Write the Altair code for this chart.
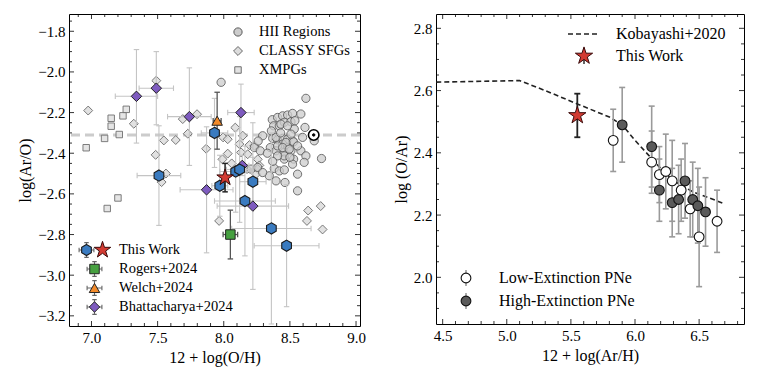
import altair as alt
import pandas as pd

FONT = "Liberation Serif"

# ---------------- Left panel data ----------------
HII_X = [8.367, 8.407, 8.445, 8.483, 8.52, 8.583, 8.377, 8.42, 8.458, 8.508, 8.533, 8.614,
         8.294, 8.37, 8.407, 8.445, 8.483, 8.52, 8.596, 8.445, 8.483, 8.528, 8.231, 8.276,
         8.352, 8.395, 8.458, 8.508, 8.583, 8.621, 8.458, 8.528, 8.608, 8.739, 8.206, 8.256,
         8.382, 8.42, 8.458, 8.344, 8.558, 8.395, 8.463, 8.558, 8.684, 7.98, 8.621,
         8.432, 8.482, 8.538, 8.394, 8.508, 8.47, 8.407, 8.445, 8.495, 8.558, 8.457, 8.407,
         8.52, 8.294, 8.36, 8.43, 8.33, 8.26, 8.37, 8.50]
HII_Y = [-2.235, -2.224, -2.216, -2.212, -2.204, -2.207, -2.265, -2.265, -2.248, -2.245, -2.281, -2.273,
         -2.314, -2.327, -2.334, -2.327, -2.331, -2.339, -2.322, -2.355, -2.372, -2.344, -2.372, -2.388,
         -2.372, -2.388, -2.396, -2.388, -2.388, -2.413, -2.429, -2.429, -2.445, -2.426, -2.478, -2.470,
         -2.475, -2.487, -2.482, -2.511, -2.503, -2.536, -2.544, -2.585, -2.339, -2.051, -2.130,
         -2.257, -2.265, -2.240, -2.322, -2.306, -2.347, -2.364, -2.372, -2.38, -2.364, -2.413, -2.413,
         -2.454, -2.495, -2.29, -2.30, -2.40, -2.34, -2.44, -2.42]

CLASSY_X = [6.975, 7.32, 7.49, 7.485, 7.547, 7.637, 7.53, 7.563, 7.69, 7.798, 7.728, 7.867, 7.965,
            8.087, 7.995, 8.03, 8.144, 8.118, 8.194, 8.232, 8.131, 8.181, 8.03, 8.257, 8.269, 8.256,
            8.176, 8.244, 7.99, 8.06, 8.638, 8.733, 8.629, 8.747]
CLASSY_Y = [-2.19, -2.255, -2.043, -2.408, -2.337, -2.335, -2.542, -2.50, -2.232, -2.208, -2.304, -2.378, -2.733,
            -2.274, -2.322, -2.331, -2.314, -2.355, -2.36, -2.363, -2.396, -2.405, -2.402, -2.43, -2.46, -2.478,
            -2.478, -2.503, -2.43, -2.45, -2.682, -2.66, -2.733, -2.775]

XMPG_X = [6.96, 7.099, 7.149, 7.149, 7.238, 7.263, 7.21, 7.20, 7.119]
XMPG_Y = [-2.373, -2.327, -2.228, -2.267, -2.216, -2.184, -2.308, -2.62, -2.672]

THIS_X = [7.51, 7.93, 7.97, 8.09, 8.12, 8.22, 8.16, 8.36, 8.475]
THIS_Y = [-2.51, -2.30, -2.56, -2.49, -2.48, -2.54, -2.635, -2.77, -2.855]
THIS_XERR = [0.165, 0.10, 0.06, 0.12, 0.10, 0.10, 0.23, 0.30, 0.245]
THIS_YERR = [0.245, 0.17, 0.15, 0.20, 0.26, 0.12, 0.27, 0.47, 0.30]

STAR_X = [8.01]
STAR_Y = [-2.52]
STAR_XERR = [0.02]
STAR_YERR = [0.07]

BH_X = [7.34, 7.49, 7.74, 8.13, 8.14, 7.87, 8.22]
BH_Y = [-2.12, -2.08, -2.22, -2.20, -2.46, -2.58, -2.66]
BH_XERR = [0.16, 0.13, 0.165, 0.10, 0.05, 0.20, 0.27]
BH_YERR = [0.23, 0.18, 0.24, 0.14, 0.05, 0.31, 0.41]

WELCH_X = [7.95]
WELCH_Y = [-2.24]
WELCH_XERR = [0.03]
WELCH_YERR = [0.14]

ROGERS_X = [8.05]
ROGERS_Y = [-2.80]
ROGERS_XERR = [0.055]
ROGERS_YERR = [0.12]

SUN_X = [8.68]
SUN_Y = [-2.31]

# ---------------- Right panel data ----------------
LOW_X = [5.83, 6.13, 6.19, 6.24, 6.29, 6.36, 6.43, 6.50, 6.64]
LOW_Y = [2.44, 2.37, 2.33, 2.34, 2.31, 2.28, 2.22, 2.13, 2.18]
LOW_ERR = [0.10, 0.10, 0.09, 0.12, 0.13, 0.10, 0.09, 0.16, 0.10]

HIGH_X = [5.90, 6.13, 6.19, 6.29, 6.34, 6.39, 6.45, 6.49, 6.55]
HIGH_Y = [2.49, 2.42, 2.28, 2.24, 2.25, 2.31, 2.25, 2.23, 2.21]
HIGH_ERR = [0.12, 0.13, 0.10, 0.11, 0.11, 0.12, 0.12, 0.12, 0.11]

RSTAR_X = [5.55]
RSTAR_Y = [2.52]
RSTAR_ERR = [0.07]

KOB_X = [4.45, 5.1, 5.3, 5.55, 5.8, 5.9, 6.0, 6.1, 6.2, 6.3, 6.45, 6.7]
KOB_Y = [2.627, 2.632, 2.60, 2.557, 2.515, 2.49, 2.44, 2.395, 2.35, 2.31, 2.275, 2.236]

# ---------------- Ticks ----------------
LX_MAJOR = [7.0, 7.5, 8.0, 8.5, 9.0]
LX_MINOR = [6.9, 7.1, 7.2, 7.3, 7.4, 7.6, 7.7, 7.8, 7.9, 8.1, 8.2, 8.3, 8.4, 8.6, 8.7, 8.8, 8.9]
LY_MAJOR = [-3.2, -3.0, -2.8, -2.6, -2.4, -2.2, -2.0, -1.8]
LY_MINOR = [-3.15, -3.1, -3.05, -2.95, -2.9, -2.85, -2.75, -2.7, -2.65, -2.55, -2.5, -2.45,
            -2.35, -2.3, -2.25, -2.15, -2.1, -2.05, -1.95, -1.9, -1.85, -1.75]
RX_MAJOR = [4.5, 5.0, 5.5, 6.0, 6.5]
RX_MINOR = [4.6, 4.7, 4.8, 4.9, 5.1, 5.2, 5.3, 5.4, 5.6, 5.7, 5.8, 5.9, 6.1, 6.2, 6.3, 6.4, 6.6, 6.7, 6.8]
RY_MAJOR = [2.0, 2.2, 2.4, 2.6, 2.8]
RY_MINOR = [1.9, 1.95, 2.05, 2.1, 2.15, 2.25, 2.3, 2.35, 2.45, 2.5, 2.55, 2.65, 2.7, 2.75]

W1, H1 = 291, 312
W2, H2 = 308, 310

SX1 = alt.Scale(domain=[6.83, 9.03], nice=False, zero=False)
SY1 = alt.Scale(domain=[-3.25, -1.715], nice=False, zero=False)
SX2 = alt.Scale(domain=[4.448, 6.85], nice=False, zero=False)
SY2 = alt.Scale(domain=[1.85, 2.846], nice=False, zero=False)

AX1 = alt.Axis(values=LX_MAJOR, format=".1f", title="12 + log(O/H)")
AY1 = alt.Axis(values=LY_MAJOR, format=".1f", title="log(Ar/O)")
AX2 = alt.Axis(values=RX_MAJOR, format=".1f", title="12 + log(Ar/H)")
AY2 = alt.Axis(values=RY_MAJOR, format=".1f", title="log (O/Ar)")

HEX = "M0,-1L0.866,-0.5L0.866,0.5L0,1L-0.866,0.5L-0.866,-0.5Z"
STAR = ("M0,-1L0.2245,-0.309L0.9511,-0.309L0.3633,0.118L0.5878,0.809L0,0.382"
        "L-0.5878,0.809L-0.3633,0.118L-0.9511,-0.309L-0.2245,-0.309Z")
HCAP = "M-1,0L1,0"
VCAP = "M0,-1L0,1"
EBGLYPH = "M-1,0L1,0M0,-1L0,1M-1,-0.3L-1,0.3M1,-0.3L1,0.3M-0.3,-1L0.3,-1M-0.3,1L0.3,1"


def enc(sx, sy, ax, ay, xf="x", yf="y"):
    return dict(x=alt.X(f"{xf}:Q", scale=sx, axis=ax), y=alt.Y(f"{yf}:Q", scale=sy, axis=ay))


def points(xs, ys, sx, sy, ax, ay, shape, size, fill, stroke, sw=1.0, fop=1.0, sop=1.0):
    df = pd.DataFrame({"x": xs, "y": ys})
    return alt.Chart(df).mark_point(shape=shape, size=size, filled=True, fill=fill, stroke=stroke,
                                    strokeWidth=sw, fillOpacity=fop, strokeOpacity=sop,
                                    opacity=1).encode(**enc(sx, sy, ax, ay))


def errorbars(xs, ys, xe, ye, sx, sy, ax, ay, color, sw=1.2, cap=36):
    df = pd.DataFrame({"x": xs, "y": ys})
    layers = []
    if ye is not None:
        df["ylo"] = [a - b for a, b in zip(ys, ye)]
        df["yhi"] = [a + b for a, b in zip(ys, ye)]
        layers.append(alt.Chart(df).mark_rule(color=color, strokeWidth=sw).encode(
            x=alt.X("x:Q", scale=sx, axis=ax), y=alt.Y("ylo:Q", scale=sy, axis=ay), y2="yhi:Q"))
        for c in ["ylo", "yhi"]:
            layers.append(alt.Chart(df).mark_point(shape=HCAP, size=cap, stroke=color, strokeWidth=sw,
                                                   filled=False, opacity=1).encode(**enc(sx, sy, ax, ay, "x", c)))
    if xe is not None:
        df["xlo"] = [a - b for a, b in zip(xs, xe)]
        df["xhi"] = [a + b for a, b in zip(xs, xe)]
        layers.append(alt.Chart(df).mark_rule(color=color, strokeWidth=sw).encode(
            x=alt.X("xlo:Q", scale=sx, axis=ax), x2="xhi:Q", y=alt.Y("y:Q", scale=sy, axis=ay)))
        for c in ["xlo", "xhi"]:
            layers.append(alt.Chart(df).mark_point(shape=VCAP, size=cap, stroke=color, strokeWidth=sw,
                                                   filled=False, opacity=1).encode(**enc(sx, sy, ax, ay, c, "y")))
    return layers


def tick_layers(xmaj, xmin, ymaj, ymin, W, H, sx, sy, ax, ay):
    layers = []
    for vals, ln in [(xmaj, 5), (xmin, 3)]:
        df = pd.DataFrame({"x": vals})
        X = alt.X("x:Q", scale=sx, axis=ax)
        layers.append(alt.Chart(df).mark_rule(color="black", strokeWidth=0.8).encode(
            x=X, y=alt.value(H), y2=alt.value(H - ln)))
        layers.append(alt.Chart(df).mark_rule(color="black", strokeWidth=0.8).encode(
            x=X, y=alt.value(0), y2=alt.value(ln)))
    for vals, ln in [(ymaj, 5), (ymin, 3)]:
        df = pd.DataFrame({"y": vals})
        Y = alt.Y("y:Q", scale=sy, axis=ay)
        layers.append(alt.Chart(df).mark_rule(color="black", strokeWidth=0.8).encode(
            y=Y, x=alt.value(0), x2=alt.value(ln)))
        layers.append(alt.Chart(df).mark_rule(color="black", strokeWidth=0.8).encode(
            y=Y, x=alt.value(W), x2=alt.value(W - ln)))
    return layers


ONE = pd.DataFrame({"a": [0]})


def lg_symbol(px, py, shape, size, fill, stroke, sw=1.0, filled=True):
    return alt.Chart(ONE).mark_point(shape=shape, size=size, filled=filled, fill=fill, stroke=stroke,
                                     strokeWidth=sw, opacity=1).encode(x=alt.value(px), y=alt.value(py))


def lg_text(px, py, txt, fs):
    return alt.Chart(ONE).mark_text(text=txt, align="left", baseline="middle", font=FONT,
                                    fontSize=fs, color="black").encode(x=alt.value(px), y=alt.value(py))


# ---------------- Left panel ----------------
L = []
sun_line = pd.DataFrame({"y": SUN_Y})
L.append(alt.Chart(sun_line).mark_rule(color="#cccccc", strokeWidth=3, strokeDash=[9, 5]).encode(
    y=alt.Y("y:Q", scale=SY1, axis=AY1)))
L.append(points(XMPG_X, XMPG_Y, SX1, SY1, AX1, AY1, "square", 42, "#e2e2e2", "#707070", 1.0, 0.9, 0.9))
L.append(points(CLASSY_X, CLASSY_Y, SX1, SY1, AX1, AY1, "diamond", 80, "#dcdcdc", "#6a6a6a", 1.0, 0.85, 0.9))
L.append(points(HII_X, HII_Y, SX1, SY1, AX1, AY1, "circle", 68, "#cccccc", "#5a5a5a", 1.0, 0.75, 0.85))
LIGHT = "#c4c4c4"
L += errorbars(THIS_X, THIS_Y, THIS_XERR, THIS_YERR, SX1, SY1, AX1, AY1, LIGHT, 1.1, 30)
L += errorbars(BH_X, BH_Y, BH_XERR, BH_YERR, SX1, SY1, AX1, AY1, LIGHT, 1.1, 30)
L += errorbars(WELCH_X, WELCH_Y, WELCH_XERR, WELCH_YERR, SX1, SY1, AX1, AY1, "#555555", 1.3, 30)
L += errorbars(ROGERS_X, ROGERS_Y, ROGERS_XERR, ROGERS_YERR, SX1, SY1, AX1, AY1, "#555555", 1.3, 30)
L.append(points(SUN_X, SUN_Y, SX1, SY1, AX1, AY1, "circle", 110, "white", "black", 1.6))
L.append(points(SUN_X, SUN_Y, SX1, SY1, AX1, AY1, "circle", 6, "black", "black", 1.0))
L.append(points(BH_X, BH_Y, SX1, SY1, AX1, AY1, "diamond", 110, "#7e5bbf", "#222222", 1.0))
L.append(points(WELCH_X, WELCH_Y, SX1, SY1, AX1, AY1, "triangle-up", 110, "#f28a2a", "#222222", 1.0))
L.append(points(ROGERS_X, ROGERS_Y, SX1, SY1, AX1, AY1, "square", 90, "#46a040", "#222222", 1.0))
L.append(points(THIS_X, THIS_Y, SX1, SY1, AX1, AY1, HEX, 125, "#3a7bc0", "#1a1a1a", 1.1))
L += errorbars(STAR_X, STAR_Y, STAR_XERR, STAR_YERR, SX1, SY1, AX1, AY1, "#222222", 1.5, 30)
L.append(points(STAR_X, STAR_Y, SX1, SY1, AX1, AY1, STAR, 300, "#d23b32", "#3a0a0a", 1.0))
L += tick_layers(LX_MAJOR, LX_MINOR, LY_MAJOR, LY_MINOR, W1, H1, SX1, SY1, AX1, AY1)

# legend top-right
L.append(lg_symbol(169, 18, "circle", 68, "#cccccc", "#5a5a5a"))
L.append(lg_symbol(169, 37, "diamond", 80, "#dcdcdc", "#6a6a6a"))
L.append(lg_symbol(169, 56, "square", 42, "#e2e2e2", "#707070"))
L.append(lg_text(190, 18, "HII Regions", 14.5))
L.append(lg_text(190, 37, "CLASSY SFGs", 14.5))
L.append(lg_text(190, 56, "XMPGs", 14.5))
# legend bottom-left
for py in [236, 255, 274, 293]:
    L.append(lg_symbol(25.5 if py != 236 else 17.5, py, EBGLYPH, 220, None, "#666666", 1.1, False))
L.append(lg_symbol(17.5, 236, HEX, 125, "#3a7bc0", "#1a1a1a", 1.1))
L.append(lg_symbol(33.5, 236, STAR, 300, "#d23b32", "#3a0a0a", 1.0))
L.append(lg_symbol(25.5, 255, "square", 90, "#46a040", "#222222"))
L.append(lg_symbol(25.5, 274, "triangle-up", 110, "#f28a2a", "#222222"))
L.append(lg_symbol(25.5, 293, "diamond", 110, "#7e5bbf", "#222222"))
L.append(lg_text(50, 236, "This Work", 14.5))
L.append(lg_text(50, 255, "Rogers+2024", 14.5))
L.append(lg_text(50, 274, "Welch+2024", 14.5))
L.append(lg_text(50, 293, "Bhattacharya+2024", 14.5))

left = alt.layer(*L).properties(width=W1, height=H1)

# ---------------- Right panel ----------------
R = []
kob = pd.DataFrame({"x": KOB_X, "y": KOB_Y})
R.append(alt.Chart(kob).mark_line(color="#222222", strokeWidth=1.6, strokeDash=[5, 3]).encode(
    **enc(SX2, SY2, AX2, AY2)))
GRAY = "#9a9a9a"
R += errorbars(LOW_X, LOW_Y, None, LOW_ERR, SX2, SY2, AX2, AY2, GRAY, 1.6, 36)
R += errorbars(HIGH_X, HIGH_Y, None, HIGH_ERR, SX2, SY2, AX2, AY2, GRAY, 1.6, 36)
R.append(points(LOW_X, LOW_Y, SX2, SY2, AX2, AY2, "circle", 95, "white", "#111111", 1.1))
R.append(points(HIGH_X, HIGH_Y, SX2, SY2, AX2, AY2, "circle", 95, "#5a5a5a", "#111111", 1.1))
R += errorbars(RSTAR_X, RSTAR_Y, None, RSTAR_ERR, SX2, SY2, AX2, AY2, "#222222", 1.8, 36)
R.append(points(RSTAR_X, RSTAR_Y, SX2, SY2, AX2, AY2, STAR, 330, "#d23b32", "#3a0a0a", 1.0))
R += tick_layers(RX_MAJOR, RX_MINOR, RY_MAJOR, RY_MINOR, W2, H2, SX2, SY2, AX2, AY2)
R.append(alt.Chart(ONE).mark_rule(color="#222222", strokeWidth=1.6, strokeDash=[5, 3]).encode(
    x=alt.value(132), x2=alt.value(164), y=alt.value(20)))
R.append(lg_symbol(148, 42, VCAP, 260, None, "#222222", 1.4, False))
R.append(lg_symbol(148, 42, STAR, 330, "#d23b32", "#3a0a0a", 1.0))
R.append(lg_text(180, 20, "Kobayashi+2020", 16))
R.append(lg_text(180, 42, "This Work", 16))
R.append(lg_symbol(30, 264, VCAP, 260, None, GRAY, 1.6, False))
R.append(lg_symbol(30, 287, VCAP, 260, None, GRAY, 1.6, False))
R.append(lg_symbol(30, 264, "circle", 95, "white", "#111111", 1.1))
R.append(lg_symbol(30, 287, "circle", 95, "#5a5a5a", "#111111", 1.1))
R.append(lg_text(63, 264, "Low-Extinction PNe", 16))
R.append(lg_text(63, 287, "High-Extinction PNe", 16))

right = alt.layer(*R).properties(width=W2, height=H2)

chart = alt.hconcat(left, right, spacing=26).properties(
    padding={"left": 9, "top": 5, "right": 5, "bottom": 5}
).configure(font=FONT).configure_axis(
    ticks=False, domain=False, grid=False, labelFont=FONT, labelFontSize=15, titleFont=FONT,
    titleFontSize=16, labelColor="black", titleColor="black", titleFontWeight="normal",
    labelPadding=4, titlePadding=4
).configure_view(stroke="black", strokeWidth=1)

chart.save("out.html", embed_options={"renderer": "svg", "actions": False})
